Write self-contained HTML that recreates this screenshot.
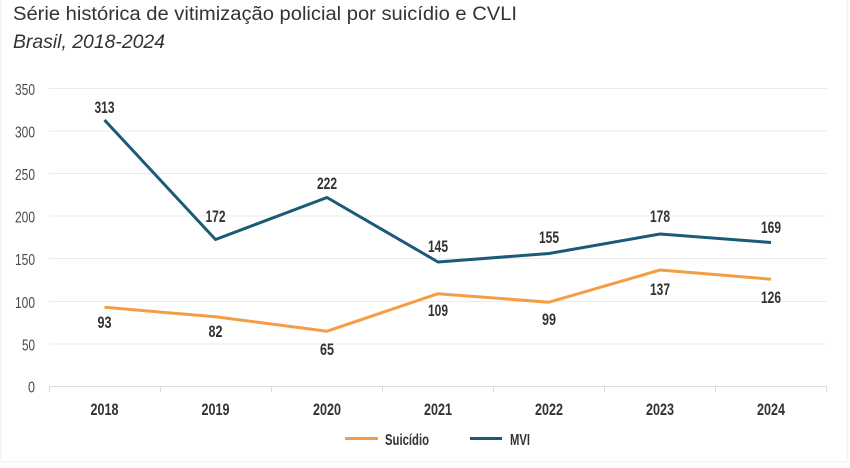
<!DOCTYPE html>
<html>
<head>
<meta charset="utf-8">
<style>
  html,body{margin:0;padding:0;background:#fff;}
  svg{display:block;}
  .t{font-family:"Liberation Sans","DejaVu Sans",sans-serif;fill:#333;}
  .n{font-family:"Liberation Sans Narrow","Liberation Sans",sans-serif;}
</style>
</head>
<body>
<svg width="850" height="468" viewBox="0 0 850 468" xmlns="http://www.w3.org/2000/svg">
  <rect x="0" y="0" width="850" height="468" fill="#ffffff"/>
  <!-- faint frame -->
  <line x1="1" y1="0" x2="1" y2="462" stroke="#eeeeee" stroke-width="1"/>
  <line x1="847" y1="0" x2="847" y2="462" stroke="#eeeeee" stroke-width="1"/>
  <line x1="1" y1="462" x2="847" y2="462" stroke="#eeeeee" stroke-width="1"/>

  <!-- title -->
  <text class="t" x="13" y="20" font-size="19" textLength="504" lengthAdjust="spacingAndGlyphs">Série histórica de vitimização policial por suicídio e CVLI</text>
  <text class="t" x="13" y="48" font-size="19" font-style="italic" textLength="152" lengthAdjust="spacingAndGlyphs">Brasil, 2018-2024</text>

  <!-- gridlines -->
  <g stroke="#ebebeb" stroke-width="1">
    <line x1="49" y1="88.5" x2="827" y2="88.5"/>
    <line x1="49" y1="131" x2="827" y2="131"/>
    <line x1="49" y1="173.5" x2="827" y2="173.5"/>
    <line x1="49" y1="216" x2="827" y2="216"/>
    <line x1="49" y1="258.5" x2="827" y2="258.5"/>
    <line x1="49" y1="301.5" x2="827" y2="301.5"/>
    <line x1="49" y1="344" x2="827" y2="344"/>
  </g>
  <!-- x axis -->
  <g stroke="#dcdcdc" stroke-width="1">
    <line x1="49" y1="386.5" x2="827" y2="386.5"/>
    <line x1="49.5" y1="386.5" x2="49.5" y2="392"/>
    <line x1="160.5" y1="386.5" x2="160.5" y2="392"/>
    <line x1="271.5" y1="386.5" x2="271.5" y2="392"/>
    <line x1="382.5" y1="386.5" x2="382.5" y2="392"/>
    <line x1="493.5" y1="386.5" x2="493.5" y2="392"/>
    <line x1="604.5" y1="386.5" x2="604.5" y2="392"/>
    <line x1="715.5" y1="386.5" x2="715.5" y2="392"/>
    <line x1="826.5" y1="386.5" x2="826.5" y2="392"/>
  </g>

  <!-- y labels -->
  <g class="n" font-size="16" fill="#4a4a4a" text-anchor="end">
    <text x="35" y="95" textLength="20" lengthAdjust="spacingAndGlyphs">350</text>
    <text x="35" y="137.5" textLength="20" lengthAdjust="spacingAndGlyphs">300</text>
    <text x="35" y="180" textLength="20" lengthAdjust="spacingAndGlyphs">250</text>
    <text x="35" y="222.5" textLength="20" lengthAdjust="spacingAndGlyphs">200</text>
    <text x="35" y="265" textLength="20" lengthAdjust="spacingAndGlyphs">150</text>
    <text x="35" y="308" textLength="20" lengthAdjust="spacingAndGlyphs">100</text>
    <text x="35" y="350.5" textLength="13" lengthAdjust="spacingAndGlyphs">50</text>
    <text x="35" y="392.5" textLength="7" lengthAdjust="spacingAndGlyphs">0</text>
  </g>

  <!-- x labels -->
  <g class="n" font-size="17" font-weight="bold" fill="#333" text-anchor="middle">
    <text x="104.5" y="415" textLength="28" lengthAdjust="spacingAndGlyphs">2018</text>
    <text x="215.5" y="415" textLength="28" lengthAdjust="spacingAndGlyphs">2019</text>
    <text x="327" y="415" textLength="28" lengthAdjust="spacingAndGlyphs">2020</text>
    <text x="438" y="415" textLength="28" lengthAdjust="spacingAndGlyphs">2021</text>
    <text x="549" y="415" textLength="28" lengthAdjust="spacingAndGlyphs">2022</text>
    <text x="660" y="415" textLength="28" lengthAdjust="spacingAndGlyphs">2023</text>
    <text x="771" y="415" textLength="28" lengthAdjust="spacingAndGlyphs">2024</text>
  </g>

  <!-- series -->
  <polyline fill="none" stroke="#F59D43" stroke-width="3" stroke-linejoin="round"
    points="104.5,307.3 215.5,316.7 327,331.2 438,293.7 549,302.2 660,270 771,279.2"/>
  <polyline fill="none" stroke="#1B5A78" stroke-width="3" stroke-linejoin="round"
    points="104.5,120 215.5,239.5 327,197.5 438,262 549,253.5 660,234 771,242.5"/>

  <!-- data labels -->
  <g class="n" font-size="17" font-weight="bold" fill="#333" text-anchor="middle">
    <text x="104.5" y="113" textLength="20" lengthAdjust="spacingAndGlyphs">313</text>
    <text x="215.5" y="222" textLength="20" lengthAdjust="spacingAndGlyphs">172</text>
    <text x="327" y="189" textLength="20" lengthAdjust="spacingAndGlyphs">222</text>
    <text x="438" y="252" textLength="20" lengthAdjust="spacingAndGlyphs">145</text>
    <text x="549" y="243" textLength="20" lengthAdjust="spacingAndGlyphs">155</text>
    <text x="660" y="222" textLength="20" lengthAdjust="spacingAndGlyphs">178</text>
    <text x="771" y="233" textLength="20" lengthAdjust="spacingAndGlyphs">169</text>

    <text x="104.5" y="328" textLength="14" lengthAdjust="spacingAndGlyphs">93</text>
    <text x="215.5" y="337" textLength="14" lengthAdjust="spacingAndGlyphs">82</text>
    <text x="327" y="355" textLength="14" lengthAdjust="spacingAndGlyphs">65</text>
    <text x="438" y="316" textLength="20" lengthAdjust="spacingAndGlyphs">109</text>
    <text x="549" y="325" textLength="14" lengthAdjust="spacingAndGlyphs">99</text>
    <text x="660" y="295" textLength="20" lengthAdjust="spacingAndGlyphs">137</text>
    <text x="771" y="303" textLength="20" lengthAdjust="spacingAndGlyphs">126</text>
  </g>

  <!-- legend -->
  <line x1="345" y1="438.5" x2="378" y2="438.5" stroke="#F59D43" stroke-width="3"/>
  <text class="n" x="385" y="445" font-size="16" font-weight="bold" fill="#333" textLength="44" lengthAdjust="spacingAndGlyphs">Suicídio</text>
  <line x1="470" y1="438.5" x2="502" y2="438.5" stroke="#1B5A78" stroke-width="3"/>
  <text class="n" x="510" y="445" font-size="16" font-weight="bold" fill="#333" textLength="20" lengthAdjust="spacingAndGlyphs">MVI</text>
</svg>
</body>
</html>
